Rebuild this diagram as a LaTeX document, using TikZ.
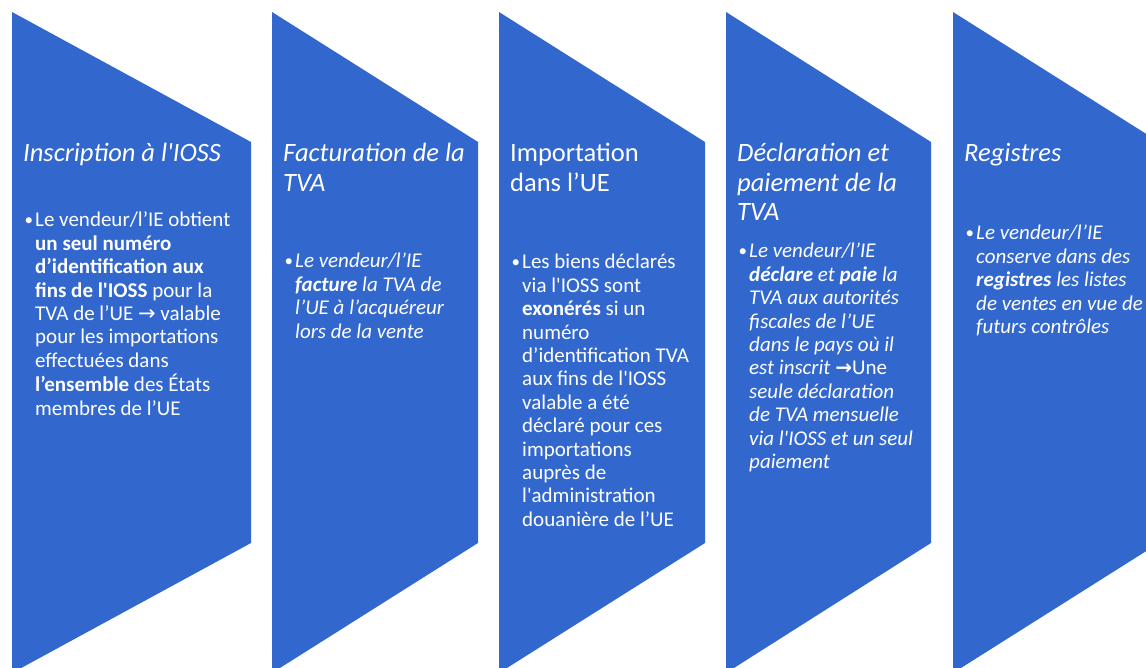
\documentclass[tikz,border=0pt]{standalone}
\usepackage{fontspec}
\newfontfamily\carl{Carlito}
\newfontfamily\djv{DejaVu Sans}
\definecolor{chev}{RGB}{50,103,205}
\newcommand{\mylines}[1]{\begin{tabular}[t]{@{}l@{}}#1\end{tabular}}
\newcommand{\bul}{\makebox[11pt][l]{\hspace*{0.5pt}\raisebox{1pt}{\upshape\fontsize{17}{17}\selectfont\textbullet}}}
\newcommand{\ind}{\hspace*{11pt}}
\newcommand{\arr}{{\djv\fontsize{21}{23.4}\selectfont →}}
\newcommand{\barr}{{\djv\bfseries\fontsize{20}{23.4}\selectfont →}}
\tikzset{
  chevshape/.style={fill=chev},
  head/.style={anchor=base west, inner sep=0pt, text=white, font=\carl\fontsize{26.5}{29.5}\selectfont},
  body/.style={anchor=base west, inner sep=0pt, text=white, font=\carl\fontsize{21}{23.4}\selectfont},
}
\begin{document}
\begin{tikzpicture}[x=1pt,y=-1pt]
\useasboundingbox (0,0) rectangle (1146,668);
\begin{scope}
\clip (0,0) rectangle (1146,668);
\fill[chevshape] (12,12) -- (251,142) -- (251,543) -- (12,673) -- cycle;
\fill[chevshape] (272,12) -- (478,142) -- (478,543) -- (272,673) -- cycle;
\fill[chevshape] (499,12) -- (705,142) -- (705,543) -- (499,673) -- cycle;
\fill[chevshape] (726,12) -- (931,142) -- (931,543) -- (726,673) -- cycle;
\fill[chevshape] (953,12) -- (1159,142) -- (1159,543) -- (953,673) -- cycle;
\end{scope}

% 1
\node[head] (h1) at (23,162) {\mylines{\itshape Inscription à l'IOSS}};
\node[body] (b1) at (24,227) {\mylines{%
\bul Le vendeur/l’IE obtient\\
\ind\textbf{un seul numéro}\\
\ind\textbf{d’identification aux}\\
\ind\textbf{fins de l'IOSS} pour la\\
\ind TVA de l’UE \arr{} valable\\
\ind pour les importations\\
\ind effectuées dans\\
\ind\textbf{l’ensemble} des États\\
\ind membres de l’UE}};

% 2
\node[head] (h2) at (283,162) {\mylines{\itshape Facturation de la\\ \itshape TVA}};
\node[body] (b2) at (284,268) {\mylines{\itshape
\bul\itshape Le vendeur/l’IE\\
\ind\textbf{\itshape facture} \itshape la TVA de\\
\ind\itshape l’UE à l’acquéreur\\
\ind\itshape lors de la vente}};

% 3
\node[head] (h3) at (510,162) {\mylines{Importation\\ dans l’UE}};
\node[body] (b3) at (511,269) {\mylines{%
\bul Les biens déclarés\\
\ind via l'IOSS sont\\
\ind\textbf{exonérés} si un\\
\ind numéro\\
\ind d’identification TVA\\
\ind aux fins de l'IOSS\\
\ind valable a été\\
\ind déclaré pour ces\\
\ind importations\\
\ind auprès de\\
\ind l'administration\\
\ind douanière de l’UE}};

% 4
\node[head] (h4) at (737,162) {\mylines{\itshape Déclaration et\\ \itshape paiement de la\\ \itshape TVA}};
\node[body] (b4) at (738,258) {\mylines{\itshape
\bul\itshape Le vendeur/l’IE\\
\ind\textbf{\itshape déclare} \itshape et \textbf{\itshape paie} \itshape la\\
\ind\itshape TVA aux autorités\\
\ind\itshape fiscales de l’UE\\
\ind\itshape dans le pays où il\\
\ind\itshape est inscrit \barr\upshape Une\\
\ind\itshape seule déclaration\\
\ind\itshape de TVA mensuelle\\
\ind\itshape via l'IOSS et un seul\\
\ind\itshape paiement}};

% 5
\node[head] (h5) at (964,162) {\mylines{\itshape Registres}};
\node[body] (b5) at (965,240) {\mylines{\itshape
\bul\itshape Le vendeur/l’IE\\
\ind\itshape conserve dans des\\
\ind\textbf{\itshape registres} \itshape les listes\\
\ind\itshape de ventes en vue de\\
\ind\itshape futurs contrôles}};
\end{tikzpicture}
\end{document}
